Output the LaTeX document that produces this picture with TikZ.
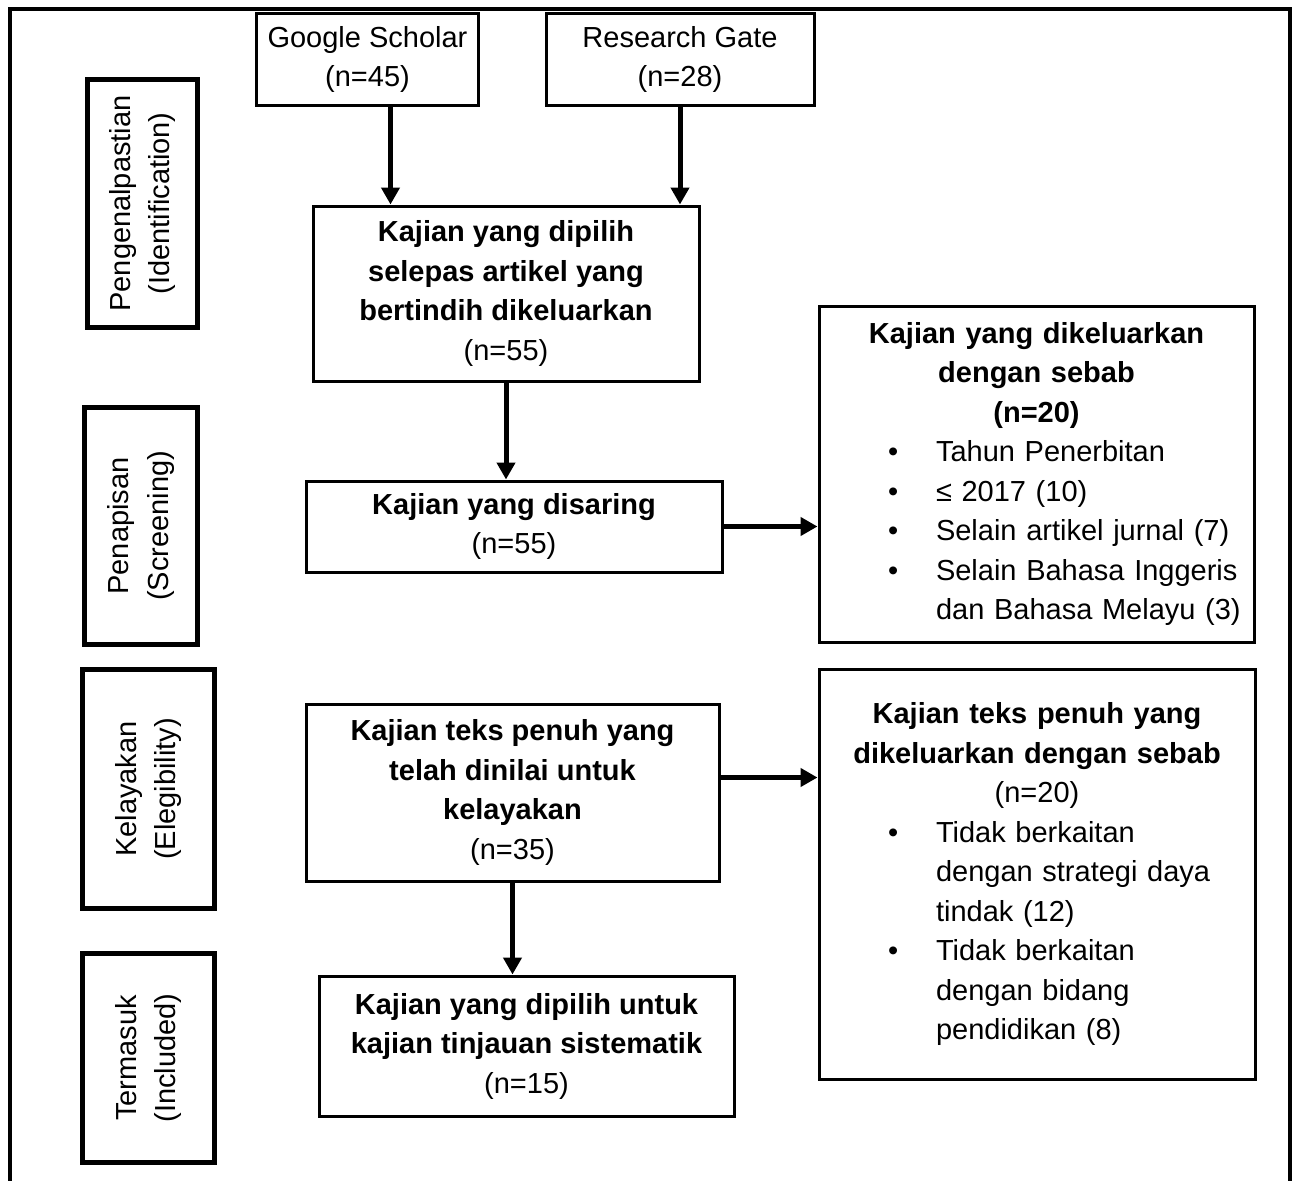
\documentclass[tikz,border=0pt]{standalone}
\usepackage{fontspec}
\setmainfont{Liberation Sans}
\usetikzlibrary{arrows.meta}
\setlength{\parindent}{0pt}

% bullet line and its continuation inside the side boxes
\newcommand{\bul}[1]{\par\hspace*{69pt}\makebox[48pt][l]{\textbullet}#1}
\newcommand{\cont}[1]{\par\hspace*{117pt}#1}

\begin{document}
\begin{tikzpicture}[x=1pt, y=-1pt,
    font=\fontsize{29}{39.5}\selectfont,
    box/.style={draw, line width=3pt, align=center, inner sep=0pt},
    side/.style={draw, line width=3pt, inner sep=0pt, text width=#1},
    phase/.style={draw, line width=5pt, rotate=90, align=center, inner sep=0pt},
    arr/.style={-{Triangle[length=17pt, width=18pt]}, line width=5pt}]
    \useasboundingbox (0,0) rectangle (1295,1180);
    % Frame
    \draw[line width=4pt] (10,1182) -- (10,9) -- (1290,9) -- (1290,1182);
    % Phases
    \node[phase, minimum width=248pt, minimum height=110pt] (ident) at (142.5,203.5) {Pengenalpastian\\(Identification)};
    \node[phase, minimum width=237pt, minimum height=113pt] (scrn) at (141,526) {Penapisan\\(Screening)};
    \node[phase, minimum width=239pt, minimum height=132pt] (elg) at (148.5,789) {Kelayakan\\(Elegibility)};
    \node[phase, minimum width=209pt, minimum height=132pt] (incl) at (148.5,1058) {Termasuk\\(Included)};
    % Sources
    \node[box, minimum width=222pt, minimum height=92pt] (gs) at (367.5,59.5) {Google Scholar\\(n=45)};
    \node[box, minimum width=268pt, minimum height=92pt] (rg) at (680,59.5) {Research Gate\\(n=28)};
    % Main flow
    \node[box, minimum width=386pt, minimum height=175pt] (sel) at (506,293.5)
        {\textbf{Kajian yang dipilih}\\\textbf{selepas artikel yang}\\\textbf{bertindih dikeluarkan}\\(n=55)};
    \node[box, minimum width=416pt, minimum height=91pt] (scr) at (514,526.5)
        {\textbf{Kajian yang disaring}\\(n=55)};
    \node[box, minimum width=413pt, minimum height=177pt] (elig) at (512.5,792.5)
        {\textbf{Kajian teks penuh yang}\\\textbf{telah dinilai untuk}\\\textbf{kelayakan}\\(n=35)};
    \node[box, minimum width=415pt, minimum height=140pt] (inc) at (526.5,1046)
        {\textbf{Kajian yang dipilih untuk}\\\textbf{kajian tinjauan sistematik}\\(n=15)};
    % Excluded
    \node[side=435pt, minimum height=336pt] (exc) at (1036.5,474)
        {{\centering\bfseries Kajian yang dikeluarkan\\dengan sebab\\(n=20)\par}
        \bul{Tahun Penerbitan}
        \bul{≤ 2017 (10)}
        \bul{Selain artikel jurnal (7)}
        \bul{Selain Bahasa Inggeris}
        \cont{dan Bahasa Melayu (3)}};
    \node[side=436pt, minimum height=410pt] (exft) at (1037,874)
        {{\centering\textbf{Kajian teks penuh yang}\\\textbf{dikeluarkan dengan sebab}\\(n=20)\par}
        \bul{Tidak berkaitan}
        \cont{dengan strategi daya}
        \cont{tindak (12)}
        \bul{Tidak berkaitan}
        \cont{dengan bidang}
        \cont{pendidikan (8)}
        \par\vspace{38pt}};
    % Arrows
    \draw[arr] ([xshift=23pt]gs.south) -- ([xshift=23pt]gs.south |- sel.north);
    \draw[arr] (rg.south) -- (rg.south |- sel.north);
    \draw[arr] (sel.south) -- (sel.south |- scr.north);
    \draw[arr] (scr.east) -- (scr.east -| exc.west);
    \draw[arr] ([yshift=15pt]elig.east) -- ([yshift=15pt]elig.east -| exft.west);
    \draw[arr] (elig.south) -- (elig.south |- inc.north);
\end{tikzpicture}
\end{document}
